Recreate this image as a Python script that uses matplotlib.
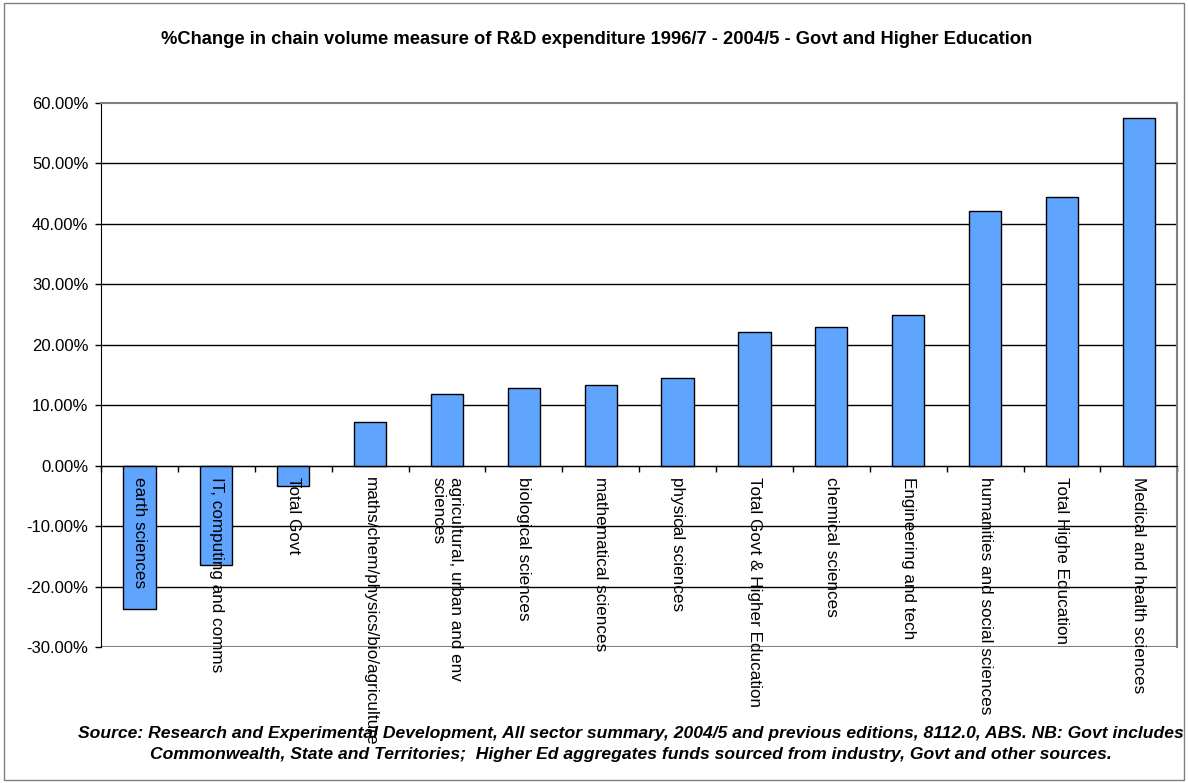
import matplotlib
matplotlib.use("Agg")
import matplotlib.pyplot as plt
from matplotlib.patches import Rectangle
from matplotlib.ticker import FuncFormatter

categories = [
    "earth sciences",
    "IT, computing and comms",
    "Total Govt",
    "maths/chem/physics/bio/agriculture",
    "agricultural, urban and env\nsciences",
    "biological sciences",
    "mathematical sciences",
    "physical sciences",
    "Total Govt & Higher Education",
    "chemical sciences",
    "Engineering and tech",
    "humanities and social sciences",
    "Total Highe Education",
    "Medical and health sciences",
]
values = [-23.7, -16.5, -3.3, 7.3, 11.9, 12.9, 13.3, 14.5, 22.1, 22.9, 24.9, 42.2, 44.5, 57.5]
yticks = [-30, -20, -10, 0, 10, 20, 30, 40, 50, 60]

title = "%Change in chain volume measure of R&D expenditure 1996/7 - 2004/5 - Govt and Higher Education"
source = ("Source: Research and Experimental Development, All sector summary, 2004/5 and previous editions, 8112.0, ABS. NB: Govt includes\n"
          "Commonwealth, State and Territories;  Higher Ed aggregates funds sourced from industry, Govt and other sources.")

plt.rcParams['font.family'] = ['Liberation Sans', 'DejaVu Sans']

fig = plt.figure(figsize=(11.88, 7.83), dpi=100)
fig.patches.append(Rectangle((0.003, 0.004), 0.994, 0.992, transform=fig.transFigure,
                             fill=False, edgecolor='#808080', lw=1))
ax = fig.add_axes([0.085, 0.1737, 0.906, 0.6948])

x = list(range(len(categories)))
ax.bar(x, values, width=0.42, color='#5fa5ff', edgecolor='black', linewidth=1, zorder=3)

ax.set_xlim(-0.5, len(categories) - 0.5)
ax.set_ylim(-30, 60)
ax.set_yticks(yticks)
ax.yaxis.set_major_formatter(FuncFormatter(lambda v, p: f"{v:.2f}%"))
ax.tick_params(axis='y', direction='out', length=4, width=1, labelsize=12, pad=5, color='black')

for v in yticks:
    if v in (-30, 60):
        continue
    ax.axhline(v, color='black', lw=1, zorder=1)
ax.axhline(-30, color='#808080', lw=1.5, zorder=1)

for s in ['top', 'right']:
    ax.spines[s].set_color('#808080')
    ax.spines[s].set_linewidth(1.5)
ax.spines['left'].set_color('black')
ax.spines['bottom'].set_position(('data', 0))
ax.spines['bottom'].set_color('black')
ax.spines['bottom'].set_zorder(4)

ax.set_xticks([i + 0.5 for i in range(-1, len(categories))])
ax.set_xticklabels([])
ax.tick_params(axis='x', direction='out', length=4, width=1, color='black')

for i, c in enumerate(categories):
    ax.annotate(c, xy=(i, 0), xytext=(0, -8), textcoords='offset points',
                rotation=270, ha='center', va='top', multialignment='left',
                fontsize=12.3, zorder=5, annotation_clip=False)

fig.text(0.502, 0.949, title, ha='center', va='center', fontsize=13.2, fontweight='bold')
fig.text(0.531, 0.05, source, ha='center', va='center', fontsize=12.6,
         fontweight='bold', fontstyle='italic', linespacing=1.5)

fig.savefig("out.png", dpi=100)
